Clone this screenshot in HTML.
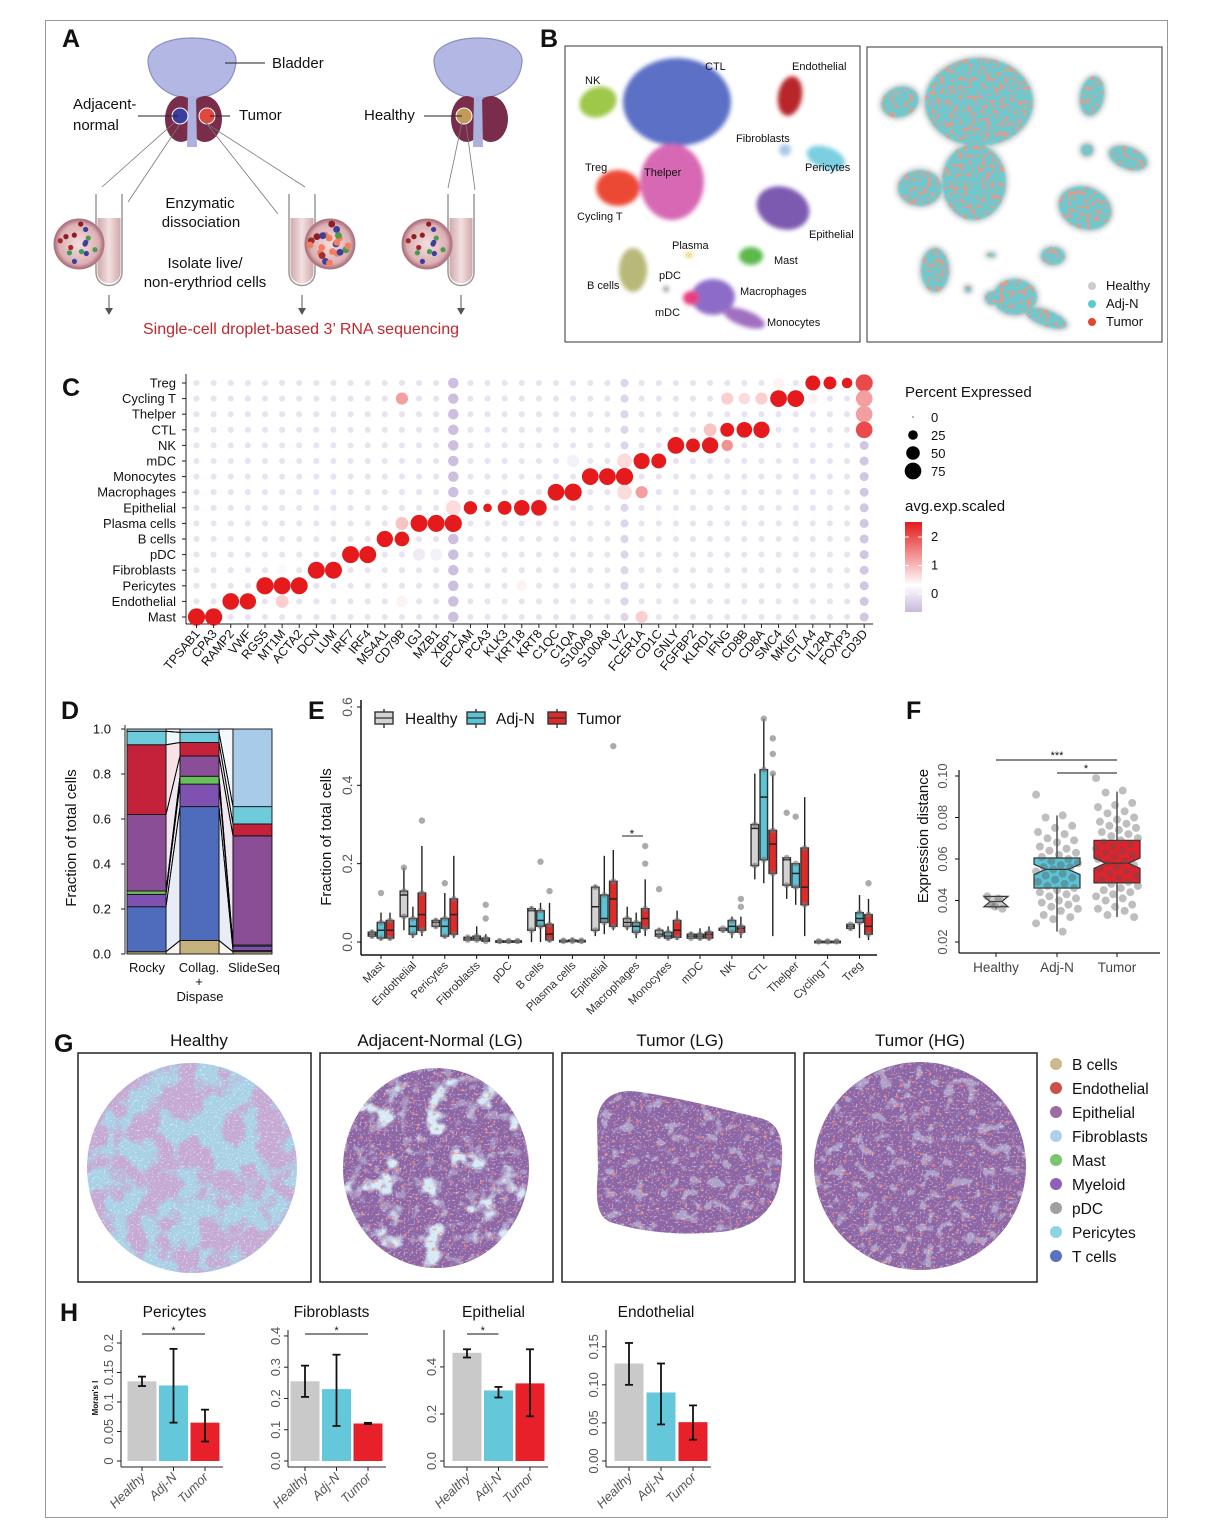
<!DOCTYPE html>
<html><head><meta charset="utf-8"><style>
html,body{margin:0;padding:0;background:#fff}
svg{display:block;font-family:"Liberation Sans","DejaVu Sans",sans-serif}
</style></head><body>
<svg id="fig" width="1206" height="1540" viewBox="0 0 1206 1540" xmlns="http://www.w3.org/2000/svg">
<defs>
<filter id="blur2" x="-20%" y="-20%" width="140%" height="140%"><feGaussianBlur stdDeviation="2.2"/></filter>
<filter id="blur1" x="-20%" y="-20%" width="140%" height="140%"><feGaussianBlur stdDeviation="1.2"/></filter>
<filter id="blot" x="0" y="0" width="100%" height="100%">
<feTurbulence type="fractalNoise" baseFrequency="0.035" numOctaves="3" seed="4" result="n"/>
<feColorMatrix in="n" type="matrix" values="0 0 0 0 0.56  0 0 0 0 0.40  0 0 0 0 0.66  7 0 0 0 -3.0" result="m"/>
<feComposite in="m" in2="SourceGraphic" operator="in"/></filter>
<filter id="blueBig" x="0" y="0" width="100%" height="100%">
<feTurbulence type="fractalNoise" baseFrequency="0.04" numOctaves="3" seed="7" result="n"/>
<feColorMatrix in="n" type="matrix" values="0 0 0 0 0.67  0 0 0 0 0.82  0 0 0 0 0.91  7 0 0 0 -3.9" result="m"/>
<feComposite in="m" in2="SourceGraphic" operator="in"/></filter>
<filter id="blueFine" x="0" y="0" width="100%" height="100%">
<feTurbulence type="fractalNoise" baseFrequency="0.09" numOctaves="2" seed="11" result="n"/>
<feColorMatrix in="n" type="matrix" values="0 0 0 0 0.67  0 0 0 0 0.83  0 0 0 0 0.92  7 0 0 0 -3.9" result="m"/>
<feComposite in="m" in2="SourceGraphic" operator="in"/></filter>
<filter id="redFine" x="0" y="0" width="100%" height="100%">
<feTurbulence type="fractalNoise" baseFrequency="0.25" numOctaves="1" seed="5" result="n"/>
<feColorMatrix in="n" type="matrix" values="0 0 0 0 0.85  0 0 0 0 0.25  0 0 0 0 0.22  9 0 0 0 -5.6" result="m"/>
<feComposite in="m" in2="SourceGraphic" operator="in"/></filter>
<filter id="speck" x="0" y="0" width="100%" height="100%">
<feTurbulence type="fractalNoise" baseFrequency="0.22" numOctaves="2" seed="9" result="n"/>
<feColorMatrix in="n" type="matrix" values="0 0 0 0 0.9  0 0 0 0 0.3  0 0 0 0 0.22  6 0 0 0 -3.0" result="m"/>
<feComposite in="m" in2="SourceGraphic" operator="in"/></filter>
<filter id="grain" x="0" y="0" width="100%" height="100%">
<feTurbulence type="fractalNoise" baseFrequency="0.5" numOctaves="1" seed="2" result="n"/>
<feColorMatrix in="n" type="matrix" values="0 0 0 0 1  0 0 0 0 1  0 0 0 0 1  6 0 0 0 -3.4" result="m"/>
<feComposite in="m" in2="SourceGraphic" operator="in"/></filter>
<radialGradient id="cellbg" cx="50%" cy="50%" r="50%"><stop offset="0" stop-color="#f3dede"/><stop offset="0.8" stop-color="#dcb0b4"/><stop offset="1" stop-color="#a86a78"/></radialGradient>
<linearGradient id="tubeg" x1="0" y1="0" x2="1" y2="0"><stop offset="0" stop-color="#c89a9c"/><stop offset="0.5" stop-color="#f0dada"/><stop offset="1" stop-color="#c89a9c"/></linearGradient>
<linearGradient id="expg" x1="0" y1="1" x2="0" y2="0"><stop offset="0" stop-color="#c9b8dc"/><stop offset="0.3" stop-color="#ffffff"/><stop offset="1" stop-color="#e41a1c"/></linearGradient>
</defs>
<rect x="0" y="0" width="1206" height="1540" fill="#fff"/>
<rect x="45.5" y="20.5" width="1122" height="1497" fill="none" stroke="#999" stroke-width="1"/>
<g id="root"></g>
</svg>
<script>
// ---------- data: panel C ----------
const genes = ["TPSAB1","CPA3","RAMP2","VWF","RGS5","MT1M","ACTA2","DCN","LUM","IRF7","IRF4","MS4A1","CD79B","IGJ","MZB1","XBP1","EPCAM","PCA3","KLK3","KRT18","KRT8","C1QC","C1QA","S100A9","S100A8","LYZ","FCER1A","CD1C","GNLY","FGFBP2","KLRD1","IFNG","CD8B","CD8A","SMC4","MKI67","CTLA4","IL2RA","FOXP3","CD3D"];
const cellTypes = ["Treg","Cycling T","Thelper","CTL","NK","mDC","Monocytes","Macrophages","Epithelial","Plasma cells","B cells","pDC","Fibroblasts","Pericytes","Endothelial","Mast"];
const hiRow = [15,15,15, 14,14,14,14, 13,13,13,13, 12,12,12, 11,11,11,11, 10,10, 9,9,9,9, 8,8,8,8,8,8, 7,7,7,7, 6,6,6, 5,5,5,5, 4,4,4,4, 3,3,3,3, 1,1,1,1,1,1,1, 0,0,0,0, 0,1,2,3];
const hiGene= [0,1,26, 2,3,5,12, 4,5,6,19, 7,8,5, 9,10,13,14, 11,12, 13,14,15,12, 16,17,18,19,20,15, 21,22,25,26, 23,24,25, 26,27,25,22, 28,29,30,31, 31,32,33,30, 34,35,31,32,33,36,12, 36,37,38,34, 39,39,39,39];
const hiPct = [80,80,40, 75,72,45,35, 80,78,78,30, 78,78,30, 78,78,40,40, 72,58, 78,78,80,45, 48,20,52,66,66,60, 76,80,60,40, 76,76,80, 70,60,60,40, 76,52,72,35, 52,66,72,45, 76,76,40,35,40,30,40, 60,45,30,30, 80,75,75,75];
const hiExp = [2.5,2.5,0.9, 2.4,2.4,0.9,0.6, 2.4,2.4,2.4,0.6, 2.4,2.4,0.4, 2.4,2.4,0.2,0.3, 2.4,2.4, 2.4,2.4,2.4,1.0, 2.4,2.4,2.4,2.4,2.4,0.8, 2.4,2.4,0.8,1.3, 2.4,2.4,2.4, 2.4,2.4,0.8,0.3, 2.4,2.4,2.4,1.4, 2.4,2.4,2.4,1.0, 2.4,2.4,0.9,0.8,0.9,0.6,1.3, 2.4,2.4,2.4,0.6, 2.0,1.3,1.3,2.0];
const bgPct = 10, bgExp = 0.1;
const pctLegend = [0,25,50,75];
const expTicks = [0,1,2];

// ---------- data: panel D ----------
const dSamples = ["Rocky","Collag.","SlideSeq"];
const dTypes = ["B cells","T cells","Myeloid","Mast","Epithelial","Endothelial","Pericytes","Fibroblasts"];
const dRocky = [0.01,0.20,0.055,0.015,0.34,0.31,0.06,0.01];
const dCollag = [0.06,0.595,0.10,0.035,0.09,0.06,0.045,0.015];
const dSlide = [0.01,0.005,0.02,0.005,0.485,0.053,0.077,0.345];
const dTicks = [0,0.2,0.4,0.6,0.8,1.0];

// ---------- data: panel E ----------
const eCats = ["Mast","Endothelial","Pericytes","Fibroblasts","pDC","B cells","Plasma cells","Epithelial","Macrophages","Monocytes","mDC","NK","CTL","Thelper","Cycling T","Treg"];
// [whiskerLo, q1, median, q3, whiskerHi]
const eHealthy = [[0.01,0.015,0.02,0.025,0.03],[0.03,0.065,0.12,0.13,0.19],[0.035,0.04,0.05,0.055,0.06],[0.003,0.005,0.01,0.012,0.015],[0.001,0.002,0.002,0.003,0.004],[0,0.03,0.08,0.085,0.09],[0.001,0.002,0.003,0.004,0.006],[0.015,0.03,0.09,0.14,0.145],[0.03,0.04,0.05,0.06,0.09],[0.01,0.015,0.02,0.03,0.035],[0.01,0.01,0.015,0.02,0.025],[0.025,0.03,0.03,0.035,0.035],[0.16,0.195,0.29,0.30,0.43],[0.11,0.145,0.21,0.215,0.215],[0,0.001,0.001,0.002,0.003],[0.03,0.035,0.04,0.045,0.045]];
const eAdj = [[0.005,0.01,0.03,0.05,0.075],[0.01,0.02,0.04,0.06,0.09],[0.01,0.015,0.04,0.06,0.125],[0.002,0.005,0.01,0.015,0.04],[0.001,0.002,0.002,0.003,0.005],[0,0.04,0.055,0.08,0.10],[0.001,0.002,0.003,0.005,0.01],[0.02,0.05,0.06,0.12,0.22],[0.01,0.025,0.04,0.05,0.075],[0.005,0.01,0.015,0.025,0.04],[0.005,0.01,0.015,0.02,0.035],[0.01,0.025,0.04,0.055,0.065],[0.15,0.21,0.37,0.44,0.57],[0.095,0.14,0.175,0.20,0.20],[0,0.001,0.001,0.002,0.003],[0.01,0.05,0.06,0.075,0.12]];
const eTumor = [[0.005,0.01,0.03,0.055,0.075],[0.015,0.03,0.07,0.125,0.245],[0.01,0.02,0.07,0.11,0.22],[0,0.002,0.005,0.01,0.02],[0.001,0.002,0.002,0.003,0.005],[0,0.005,0.02,0.045,0.10],[0.001,0.002,0.003,0.004,0.008],[0.03,0.04,0.11,0.155,0.235],[0.015,0.035,0.06,0.085,0.16],[0.005,0.012,0.03,0.055,0.08],[0.005,0.01,0.02,0.025,0.04],[0.01,0.025,0.035,0.04,0.065],[0.015,0.175,0.25,0.285,0.43],[0.015,0.095,0.14,0.24,0.37],[0,0.001,0.001,0.002,0.003],[0.005,0.02,0.04,0.07,0.11]];
const eOutCat = [0,1,1,2,3,3,5,5,7,8,8,9,11,11,12,12,12,12,13,13,15];
const eOutGrp = [1,0,2,1,2,2,1,2,2,2,2,0,2,2,1,2,2,2,0,1,2];
const eOutVal = [0.125,0.19,0.31,0.15,0.095,0.06,0.205,0.13,0.5,0.245,0.2,0.135,0.11,0.09,0.57,0.52,0.48,0.43,0.33,0.32,0.15];
const eTicks = [0,0.2,0.4,0.6];

// ---------- data: panel F ----------
const fGroups = ["Healthy","Adj-N","Tumor"];
const fStats = [[0.036,0.037,0.0395,0.042,0.042],[0.025,0.046,0.055,0.0605,0.081],[0.032,0.0485,0.058,0.069,0.0925]];
const fHealthy = [0.042,0.041,0.038,0.036,0.037];
const fAdj = [0.091,0.081,0.080,0.076,0.075,0.073,0.072,0.070,0.069,0.068,0.066,0.065,0.064,0.063,0.062,0.061,0.060,0.059,0.058,0.057,0.056,0.056,0.055,0.054,0.053,0.052,0.051,0.050,0.049,0.048,0.047,0.046,0.045,0.044,0.043,0.042,0.041,0.040,0.039,0.038,0.037,0.036,0.035,0.033,0.032,0.031,0.029,0.025];
const fTumor = [0.099,0.093,0.092,0.087,0.086,0.085,0.083,0.082,0.080,0.079,0.078,0.077,0.076,0.075,0.074,0.073,0.072,0.071,0.070,0.069,0.068,0.067,0.066,0.065,0.064,0.063,0.062,0.061,0.060,0.059,0.058,0.057,0.056,0.055,0.054,0.053,0.052,0.051,0.050,0.049,0.048,0.047,0.046,0.045,0.044,0.043,0.042,0.041,0.040,0.038,0.037,0.036,0.035,0.033,0.032];
const fTicks = [0.02,0.04,0.06,0.08,0.10];

// ---------- data: panel H ----------
const hTitles = ["Pericytes","Fibroblasts","Epithelial","Endothelial"];
const hGroups = ["Healthy","Adj-N","Tumor"];
const hMeans = [[0.135,0.128,0.065],[0.255,0.23,0.12],[0.46,0.30,0.33],[0.128,0.09,0.051]];
const hLo = [[0.127,0.065,0.033],[0.205,0.112,0.118],[0.44,0.27,0.19],[0.10,0.048,0.028]];
const hHi = [[0.143,0.19,0.087],[0.305,0.34,0.122],[0.475,0.315,0.475],[0.155,0.128,0.073]];
const hTickVals = [[0,0.05,0.1,0.15,0.2],[0,0.1,0.2,0.3,0.4],[0,0.2,0.4],[0,0.05,0.10,0.15]];
const hTickLabels = [["0","0.05","0.1","0.15","0.2"],["0.0","0.1","0.2","0.3","0.4"],["0.0","0.2","0.4"],["0.00","0.05","0.10","0.15"]];
const hSig = [[0,2],[0,2],[0,1],null];

// ---------- helpers ----------
const NS="http://www.w3.org/2000/svg";
const root=document.getElementById('root');
function mk(tag, attrs, parent){const e=document.createElementNS(NS,tag);for(const k in attrs)e.setAttribute(k,attrs[k]);(parent||root).appendChild(e);return e;}
function tx(str,x,y,size,attrs,parent){const a=Object.assign({x:x,y:y,'font-size':size,fill:'#111'},attrs||{});const e=mk('text',a,parent);e.textContent=str;return e;}
function grp(parent){return mk('g',{},parent);}
function lerp(a,b,t){return a+(b-a)*t;}
function hex(c){return [parseInt(c.slice(1,3),16),parseInt(c.slice(3,5),16),parseInt(c.slice(5,7),16)];}
function expColor(v){const lav=hex('#c9b8dc'),w=[255,255,255],r=hex('#e41a1c');let c;if(v<0.5){const t=Math.max(0,Math.min(1,(v+0.5)/1));c=lav.map((x,i)=>lerp(x,w[i],t));}else{const t=Math.max(0,Math.min(1,(v-0.5)/1.9));c=w.map((x,i)=>lerp(x,r[i],t));}return 'rgb('+c.map(Math.round).join(',')+')';}

// panel letters
const letters=[["A",62,47],["B",540,47],["C",62,396],["D",61,719],["E",308,719],["F",906,719],["G",54,1052],["H",60,1321]];
letters.forEach(l=>{const t=tx(l[0],l[1],l[2],25,{'font-weight':'bold'});

});

// ---------- Panel A ----------
(function(){
const g=grp();  
function organ(cx){
 mk('path',{d:`M${cx-44},62 C${cx-46},30 ${cx+46},30 ${cx+44},62 C${cx+42},86 ${cx+22},96 ${cx+6},98 L${cx-6},98 C${cx-22},96 ${cx-42},86 ${cx-44},62 Z`,fill:'#b3b7e3',stroke:'#8b8fc2','stroke-width':1.2},g);
 mk('ellipse',{cx:cx-11,cy:119,rx:16,ry:23,fill:'#7a2d4b'},g);
 mk('ellipse',{cx:cx+13,cy:119,rx:17,ry:23,fill:'#7a2d4b'},g);
 mk('path',{d:`M${cx-4},96 L${cx+4},96 L${cx+5},147 L${cx-5},147 Z`,fill:'#adb1dd'},g);
}
organ(192); organ(478);
mk('circle',{cx:180,cy:116,r:8,fill:'#3a3f9e',stroke:'#fff','stroke-width':1},g);
mk('circle',{cx:207,cy:116,r:8,fill:'#e0483e',stroke:'#fff','stroke-width':1},g);
mk('circle',{cx:464,cy:116,r:8,fill:'#c49a5a',stroke:'#fff','stroke-width':1},g);
[[225,63,265,63],[138,116,178,116],[210,116,230,116],[424,116,462,116]].forEach(l=>mk('line',{x1:l[0],y1:l[1],x2:l[2],y2:l[3],stroke:'#222','stroke-width':1},g));
tx("Bladder",272,68,15,{},g); tx("Adjacent-",73,109,15,{},g); tx("normal",73,130,15,{},g);
tx("Tumor",239,120,15,{},g); tx("Healthy",364,120,15,{},g);
[[175,122,102,187],[180,124,128,202],[204,122,305,187],[207,124,278,214],[462,122,448,188],[466,124,475,190]].forEach(l=>mk('line',{x1:l[0],y1:l[1],x2:l[2],y2:l[3],stroke:'#777','stroke-width':0.8},g));
function tube(x){mk('path',{d:`M${x},194 L${x},272 C${x},290 ${x+26},290 ${x+26},272 L${x+26},194`,fill:'#fff',stroke:'#999','stroke-width':1.5},g);
 mk('path',{d:`M${x+1.5},218 L${x+1.5},272 C${x+1.5},287 ${x+24.5},287 ${x+24.5},272 L${x+24.5},218 Z`,fill:'url(#tubeg)',opacity:0.85},g);
 mk('line',{x1:x+13,y1:295,x2:x+13,y2:312,stroke:'#555','stroke-width':1},g);
 mk('path',{d:`M${x+9},308 L${x+13},315 L${x+17},308 Z`,fill:'#555'},g);}
tube(96); tube(289); tube(448);
const dotCols=['#3d3f9a','#3f9a55','#8e1e22','#3d3f9a','#a12a2a','#4c9a4c','#3d3f9a','#8e1e22','#4c9a4c','#a12a2a'];
function cellCircle(cx,cy,tumor){mk('circle',{cx:cx,cy:cy,r:25,fill:'url(#cellbg)',stroke:'#b07a82','stroke-width':1},g);
 for(let i=0;i<(tumor?22:14);i++){const a=i*2.399,rr=6+((i*7)%15);const c=tumor&&i%2?'#f08060':dotCols[i%dotCols.length];
 mk('circle',{cx:cx+rr*Math.cos(a),cy:cy+rr*Math.sin(a),r:tumor?3.4:2.6,fill:c},g);}}
cellCircle(79,244,false); cellCircle(330,244,true); cellCircle(427,244,false);
tx("Enzymatic",200,208,15,{'text-anchor':'middle'},g); tx("dissociation",201,227,15,{'text-anchor':'middle'},g);
tx("Isolate live/",205,268,15,{'text-anchor':'middle'},g); tx("non-erythriod cells",205,287,15,{'text-anchor':'middle'},g);
tx("Single-cell droplet-based 3’ RNA sequencing",301,334,16,{'text-anchor':'middle',fill:'#c1272d'},g);
})();

// ---------- Panel B ----------
(function(){
const blobs=[
["CTL",677,102,54,44,0,"#5b6fc6"],["Thelper",672,182,32,38,0,"#d767b3"],["Treg",618,188,22,18,0,"#ec4a36"],
["NK",598,102,19,15,-20,"#9dc84a"],["Endothelial",790,96,12,20,10,"#b8262a"],["Pericytes",826,158,20,11,20,"#7ccfe0"],
["Fibroblasts",785,150,6,6,0,"#a7c8ea"],["Epithelial",783,208,27,21,20,"#7c5ab0"],["Mast",751,256,12,9,0,"#5cba4c"],["Plasma",689,255,4,2,0,"#e0c030"],
["B cells",633,270,14,22,0,"#b8b878"],["pDC",666,289,3,3,0,"#999999"],["Macrophages",713,297,22,18,0,"#8d6cc8"],
["Monocytes",744,318,22,8,20,"#a070c0"],["mDC",691,298,8,7,0,"#e83d80"]];
const L=mk('rect',{x:565,y:46,width:295,height:296,fill:'#fff',stroke:'#333','stroke-width':1});
 
const R=mk('rect',{x:867,y:47,width:295,height:295,fill:'#fff',stroke:'#333','stroke-width':1});
 
const gl=grp(); gl.setAttribute('filter','url(#blur2)');
 
const gh=grp(); gh.setAttribute('filter','url(#blur2)');
const gr=grp(); gr.setAttribute('filter','url(#blur1)');
 
const gr2=grp(); gr2.setAttribute('filter','url(#speck)');
blobs.forEach(b=>{const t=`rotate(${b[5]} ${b[1]} ${b[2]})`;
 const e=mk('ellipse',{cx:b[1],cy:b[2],rx:b[3],ry:b[4],fill:b[6],transform:t},gl);
 
 
 const rt=`rotate(${b[5]} ${b[1]+302} ${b[2]})`;
 mk('ellipse',{cx:b[1]+302,cy:b[2],rx:b[3]+3,ry:b[4]+3,fill:'#d8d8d8',transform:rt},gh);
 mk('ellipse',{cx:b[1]+302,cy:b[2],rx:b[3],ry:b[4],fill:'#6cc9cf',transform:rt},gr);
 mk('ellipse',{cx:b[1]+302,cy:b[2],rx:b[3],ry:b[4],fill:'#e5452d',transform:rt,opacity:0.85},gr2);
});
const labs=[["NK",585,84],["CTL",705,70],["Endothelial",792,70],["Fibroblasts",736,142],["Pericytes",805,171],["Treg",585,171],["Thelper",644,176],["Cycling T",577,220],["Epithelial",809,238],["Plasma",672,249],["Mast",774,264],["pDC",659,279],["B cells",587,289],["Macrophages",740,295],["mDC",655,316],["Monocytes",767,326]];
labs.forEach(l=>{const t=tx(l[0],l[1],l[2],11,{});});
[["Healthy","#cccccc",290],["Adj-N","#5ec9cf",308],["Tumor","#e5452d",326]].forEach(l=>{
 const c=mk('circle',{cx:1092,cy:l[2]-4,r:4,fill:l[1]});
  
 tx(l[0],1106,l[2],13,{});});
})();

// ---------- Panel C ----------
(function(){
const g=grp();  
const x0=196.5, dx=17.12, y0=383, dy=15.6;
const xs=i=>x0+i*dx, ys=j=>y0+j*dy;
const rad=p=>p<=0?0.6:Math.min(9,8.6*Math.sqrt(p/80));
mk('line',{x1:186,y1:374,x2:186,y2:624,stroke:'#222','stroke-width':1},g);
mk('line',{x1:186,y1:624,x2:873,y2:624,stroke:'#222','stroke-width':1},g);
const pct=[],exp=[];
for(let j=0;j<cellTypes.length;j++){pct.push([]);exp.push([]);for(let i=0;i<genes.length;i++){
 let p=bgPct,e=bgExp; if(i===15){p=30;e=-0.4;} if(i===39){p=22;e=-0.3;} if(i===25){p=18;e=-0.1;}
 pct[j].push(p);exp[j].push(e);}}
for(let k=0;k<hiRow.length;k++){pct[hiRow[k]][hiGene[k]]=hiPct[k];exp[hiRow[k]][hiGene[k]]=hiExp[k];}
for(let j=0;j<cellTypes.length;j++){
 mk('line',{x1:182,y1:ys(j),x2:186,y2:ys(j),stroke:'#222'},g);
 const t=tx(cellTypes[j],176,ys(j)+4.5,13,{'text-anchor':'end'},g);
  
 for(let i=0;i<genes.length;i++){
  const c=mk('circle',{cx:xs(i),cy:ys(j),r:rad(pct[j][i]),fill:expColor(exp[j][i])},g);
   
 }}
for(let i=0;i<genes.length;i++){
 mk('line',{x1:xs(i),y1:624,x2:xs(i),y2:628,stroke:'#222'},g);
 const t=tx(genes[i],xs(i)+4,634,12.5,{'text-anchor':'end',transform:`rotate(-50 ${xs(i)+4} 634)`},g);
  }
tx("Percent Expressed",905,397,15,{},g);
pctLegend.forEach((p,k)=>{const y=417+k*18;const c=mk('circle',{cx:913,cy:y,r:rad(p),fill:'#000'},g);
  
 tx(String(p),931,y+5,13,{},g);});
tx("avg.exp.scaled",905,511,15,{},g);
const gb=mk('rect',{x:905,y:522,width:17,height:90,fill:'url(#expg)'},g);
 
expTicks.forEach(v=>{const y=594-v*28.5;mk('line',{x1:905,y1:y,x2:909,y2:y,stroke:'#fff'},g);mk('line',{x1:918,y1:y,x2:922,y2:y,stroke:'#fff'},g);tx(String(v),931,y+4,13,{},g);});
})();

// ---------- Panel D ----------
(function(){
const g=grp();  
const cols=["#c6b27e","#4f6cbc","#7f52b2","#68c05a","#8a4e96","#c4213a","#6ecbdb","#a8cbe9"];
const ys=v=>954-v*225; const bx=[127,180,233], bw=39;
const data=[dRocky,dCollag,dSlide];
const cum=data.map(a=>{let s=0;return a.map(v=>{const r=[s,s+v];s+=v;return r;});});
for(let b=0;b<2;b++)for(let k=0;k<dTypes.length;k++){
 const a=cum[b][k],c=cum[b+1][k];const x1=bx[b]+bw,x2=bx[b+1];
 const p=mk('polygon',{points:`${x1},${ys(a[0])} ${x2},${ys(c[0])} ${x2},${ys(c[1])} ${x1},${ys(a[1])}`,fill:cols[k],'fill-opacity':0.13,stroke:'#000','stroke-width':0.9},g);
  }
for(let b=0;b<3;b++)for(let k=0;k<dTypes.length;k++){const s=cum[b][k];
 const r=mk('rect',{x:bx[b],y:ys(s[1]),width:bw,height:Math.max(0,ys(s[0])-ys(s[1])),fill:cols[k],stroke:'#111','stroke-width':0.9},g);
 
 }
mk('line',{x1:125,y1:725,x2:125,y2:954,stroke:'#222'},g);
dTicks.forEach(v=>{mk('line',{x1:121,y1:ys(v),x2:125,y2:ys(v),stroke:'#222'},g);tx(v.toFixed(1),111,ys(v)+4.5,13,{'text-anchor':'end'},g);});
const yt=tx("Fraction of total cells",76,838,15,{'text-anchor':'middle',transform:'rotate(-90 76 838)'},g);
 
tx("Rocky",147,972,13,{'text-anchor':'middle'},g); tx("Collag.",199,972,13,{'text-anchor':'middle'},g);
tx("+",199,986,13,{'text-anchor':'middle'},g); tx("Dispase",200,1001,13,{'text-anchor':'middle'},g);
tx("SlideSeq",254,972,13,{'text-anchor':'middle'},g);
})();

// ---------- Panel E ----------
(function(){
const g=grp();  
const ys=v=>942-v*391.7; const x0=381, dx=31.9; const off=[-9,0,9]; const bw=7.5;
const fills=["#d3d3d3","#5bc3d6","#df2a2a"];
mk('line',{x1:361,y1:700,x2:361,y2:955,stroke:'#111','stroke-width':1.5},g);
mk('line',{x1:361,y1:955,x2:877,y2:955,stroke:'#111','stroke-width':1.5},g);
eTicks.forEach(v=>{mk('line',{x1:357,y1:ys(v),x2:361,y2:ys(v),stroke:'#111'},g);
 tx(v.toFixed(1),352,ys(v),14,{'text-anchor':'middle',fill:'#555',transform:`rotate(-90 352 ${ys(v)})`},g);});
const yt=tx("Fraction of total cells",331,837,15,{'text-anchor':'middle',transform:'rotate(-90 331 837)'},g);
 
const groups=[eHealthy,eAdj,eTumor];
eCats.forEach((c,i)=>{const cx=x0+i*dx;
 mk('line',{x1:cx,y1:955,x2:cx,y2:959,stroke:'#111'},g);
 const t=tx(c,cx+4,966,11.5,{'text-anchor':'end',fill:'#333',transform:`rotate(-45 ${cx+4} 966)`},g);
  
 groups.forEach((gd,k)=>{const s=gd[i];const x=cx+off[k];
  mk('line',{x1:x,y1:ys(s[0]),x2:x,y2:ys(s[4]),stroke:'#222','stroke-width':1.4},g);
  const r=mk('rect',{x:x-bw/2,y:ys(s[3]),width:bw,height:Math.max(1.5,ys(s[1])-ys(s[3])),fill:fills[k],stroke:'#333','stroke-width':1.4},g);
  
  
  mk('line',{x1:x-bw/2,y1:ys(s[2]),x2:x+bw/2,y2:ys(s[2]),stroke:'#222','stroke-width':1.5},g);
  mk('circle',{cx:x,cy:ys(s[1]),r:3,fill:'#777','fill-opacity':0.6},g);
  mk('circle',{cx:x,cy:ys(s[3]),r:3,fill:'#777','fill-opacity':0.6},g);
 });});
eOutVal.forEach((v,k)=>{const c=mk('circle',{cx:x0+eOutCat[k]*dx+off[eOutGrp[k]],cy:ys(v),r:3.2,fill:'#888','fill-opacity':0.7},g);
  });
mk('line',{x1:622,y1:836,x2:643,y2:836,stroke:'#222'},g); tx("*",632,838,12,{'text-anchor':'middle'},g);
[["Healthy",384,405,0],["Adj-N",476,496,1],["Tumor",557,577,2]].forEach(l=>{
 mk('line',{x1:l[1],y1:709,x2:l[1],y2:728,stroke:'#333','stroke-width':1.4},g);
 const r=mk('rect',{x:l[1]-9,y:712,width:18,height:12,fill:fills[l[3]],stroke:'#333','stroke-width':1.4},g);
  
 mk('line',{x1:l[1]-9,y1:718,x2:l[1]+9,y2:718,stroke:'#333','stroke-width':1.2},g);
 tx(l[0],l[2],724,15.5,{},g);});
})();

// ---------- Panel F ----------
(function(){
const g=grp();  
const ys=v=>942-(v-0.02)*2075; const xs=[996,1057,1117]; const hw=[12,23,23];
const fills=["#cfcfcf","#5bc3d6","#e8202a"];
mk('line',{x1:959,y1:770,x2:959,y2:953,stroke:'#111','stroke-width':1.2},g);
mk('line',{x1:959,y1:953,x2:1160,y2:953,stroke:'#111','stroke-width':1.2},g);
fTicks.forEach(v=>{mk('line',{x1:955,y1:ys(v),x2:959,y2:ys(v),stroke:'#111'},g);
 tx(v.toFixed(2),947,ys(v),13,{'text-anchor':'middle',fill:'#555',transform:`rotate(-90 947 ${ys(v)})`},g);});
const yt=tx("Expression distance",928,836,15,{'text-anchor':'middle',transform:'rotate(-90 928 836)'},g);
 
fGroups.forEach((n,k)=>{mk('line',{x1:xs[k],y1:953,x2:xs[k],y2:957,stroke:'#111'},g);
 tx(n,xs[k],972,13.5,{'text-anchor':'middle',fill:'#444'},g);
 const s=fStats[k],x=xs[k],w=hw[k],nw=w*0.5,nt=0.0025;
 mk('line',{x1:x,y1:ys(s[0]),x2:x,y2:ys(s[4]),stroke:'#222','stroke-width':1.2},g);
 const pts=[[x-w,ys(s[3])],[x+w,ys(s[3])],[x+w,ys(s[2]+nt)],[x+nw,ys(s[2])],[x+w,ys(s[2]-nt)],[x+w,ys(s[1])],[x-w,ys(s[1])],[x-w,ys(s[2]-nt)],[x-nw,ys(s[2])],[x-w,ys(s[2]+nt)]];
 const b=mk('polygon',{points:pts.map(p=>p.join(',')).join(' '),fill:fills[k],stroke:'#333','stroke-width':1.2},g);
  
 mk('line',{x1:x-nw,y1:ys(s[2]),x2:x+nw,y2:ys(s[2]),stroke:'#333','stroke-width':1.2},g);
});
[fHealthy,fAdj,fTumor].forEach((arr,k)=>{arr.forEach((v,i)=>{const j=(((i*37)%23)-11)*(k===0?0.8:1.9);
 const c=mk('circle',{cx:xs[k]+j,cy:ys(v),r:4,fill:'#555','fill-opacity':0.38},g);
  });});
mk('line',{x1:996,y1:760,x2:1117,y2:760,stroke:'#111'},g); tx("***",1057,759,11,{'text-anchor':'middle'},g);
mk('line',{x1:1057,y1:773,x2:1117,y2:773,stroke:'#111'},g); tx("*",1086,772,11,{'text-anchor':'middle'},g);
})();

// ---------- Panel G ----------
(function(){
const frames=[["Healthy",78,199],["Adjacent-Normal (LG)",320,440],["Tumor (LG)",562,680],["Tumor (HG)",804,920]];
frames.forEach((f,k)=>{const g=grp();
 tx(f[0],f[2],1046,17,{'text-anchor':'middle'},g);
 const cx=f[1]+116, cy=1168;
 let shape;
 if(k===0) shape={tag:'circle',a:{cx:cx-2,cy:cy,r:105}};
 else if(k===1) shape={tag:'ellipse',a:{cx:cx,cy:cy,rx:93,ry:100}};
 else if(k===2) shape={tag:'path',a:{d:`M597,1120 C600,1098 615,1088 640,1092 C680,1098 720,1108 760,1118 C785,1124 784,1150 780,1180 C776,1205 760,1228 720,1232 C680,1236 640,1232 610,1222 C595,1215 596,1195 598,1170 Z`}};
 else shape={tag:'ellipse',a:{cx:920,cy:1166,rx:106,ry:104}};
 const base=Object.assign({},shape.a,{fill:k===0?'#aad2e6':'#8d66a6'});
 mk(shape.tag,base,g);
 if(k===0){mk(shape.tag,Object.assign({},shape.a,{fill:'#fff',filter:'url(#blot)'}),g);}
 else if(k===1){mk(shape.tag,Object.assign({},shape.a,{fill:'#fff',filter:'url(#blueBig)'}),g);
  mk(shape.tag,Object.assign({},shape.a,{fill:'#fff',filter:'url(#blueFine)',opacity:0.35}),g);}
 else {mk(shape.tag,Object.assign({},shape.a,{fill:'#fff',filter:'url(#blueFine)',opacity:0.45}),g);}
 if(k>0) mk(shape.tag,Object.assign({},shape.a,{fill:'#fff',filter:'url(#redFine)',opacity:0.7}),g);
 mk(shape.tag,Object.assign({},shape.a,{fill:'#fff',filter:'url(#grain)',opacity:0.45}),g);
 mk('rect',{x:f[1],y:1053,width:233,height:229,fill:'none',stroke:'#222','stroke-width':1.5},g);
});
const gl=[["B cells","#cfb98c"],["Endothelial","#c8524a"],["Epithelial","#9a6ca8"],["Fibroblasts","#abd2ea"],["Mast","#7cc46f"],["Myeloid","#8b62b5"],["pDC","#a0a0a0"],["Pericytes","#8ad5de"],["T cells","#5a72bf"]];
gl.forEach((l,k)=>{const y=1064+k*24;const c=mk('circle',{cx:1056,cy:y,r:6,fill:l[1]});
  
 tx(l[0],1072,y+6,15.5,{});});
})();

// ---------- Panel H ----------
(function(){
const axX=[121,288,444,606], c0=[142,305,467,629], step=[31.5,31.5,31.5,32];
const dmax=[0.222,0.419,0.557,0.172];
const fills=["#c9c9c9","#64c8da","#e8202a"];
hTitles.forEach((t,p)=>{const g=grp();
 const ys=v=>1461-v*(131/dmax[p]);
 tx(t,c0[p]+step[p]*1+ (p===0?1:-5),1317,15.5,{'text-anchor':'middle'},g);
 mk('line',{x1:axX[p],y1:1330,x2:axX[p],y2:1467,stroke:'#222','stroke-width':1},g);
 mk('line',{x1:axX[p],y1:1467,x2:c0[p]+2*step[p]+18,y2:1467,stroke:'#222','stroke-width':1},g);
 hTickVals[p].forEach((v,i)=>{mk('line',{x1:axX[p]-4,y1:ys(v),x2:axX[p],y2:ys(v),stroke:'#222'},g);
  tx(hTickLabels[p][i],axX[p]-8,ys(v),13,{'text-anchor':'middle',fill:'#555',transform:`rotate(-90 ${axX[p]-8} ${ys(v)})`},g);});
 hGroups.forEach((n,k)=>{const cx=c0[p]+k*step[p];
  const b=mk('rect',{x:cx-14.5,y:ys(hMeans[p][k]),width:29,height:ys(0)-ys(hMeans[p][k]),fill:fills[k]},g);
   
  mk('line',{x1:cx,y1:ys(hLo[p][k]),x2:cx,y2:ys(hHi[p][k]),stroke:'#111','stroke-width':1.8},g);
  mk('line',{x1:cx-4,y1:ys(hLo[p][k]),x2:cx+4,y2:ys(hLo[p][k]),stroke:'#111','stroke-width':1.8},g);
  mk('line',{x1:cx-4,y1:ys(hHi[p][k]),x2:cx+4,y2:ys(hHi[p][k]),stroke:'#111','stroke-width':1.8},g);
  mk('line',{x1:cx,y1:1467,x2:cx,y2:1471,stroke:'#222'},g);
  tx(n,cx+4,1478,13,{'text-anchor':'end',fill:'#555','font-style':'italic',transform:`rotate(-45 ${cx+4} 1478)`},g);
 });
 if(hSig[p]){const a=c0[p]+hSig[p][0]*step[p], b=c0[p]+hSig[p][1]*step[p];
  mk('line',{x1:a,y1:1334,x2:b,y2:1334,stroke:'#111'},g); tx("*",(a+b)/2,1334,11,{'text-anchor':'middle'},g);}
});
const m=tx("Moran's I",98,1398,8,{'text-anchor':'middle','font-weight':'bold',transform:'rotate(-90 98 1398)'});
 
})();
</script>
</body></html>
